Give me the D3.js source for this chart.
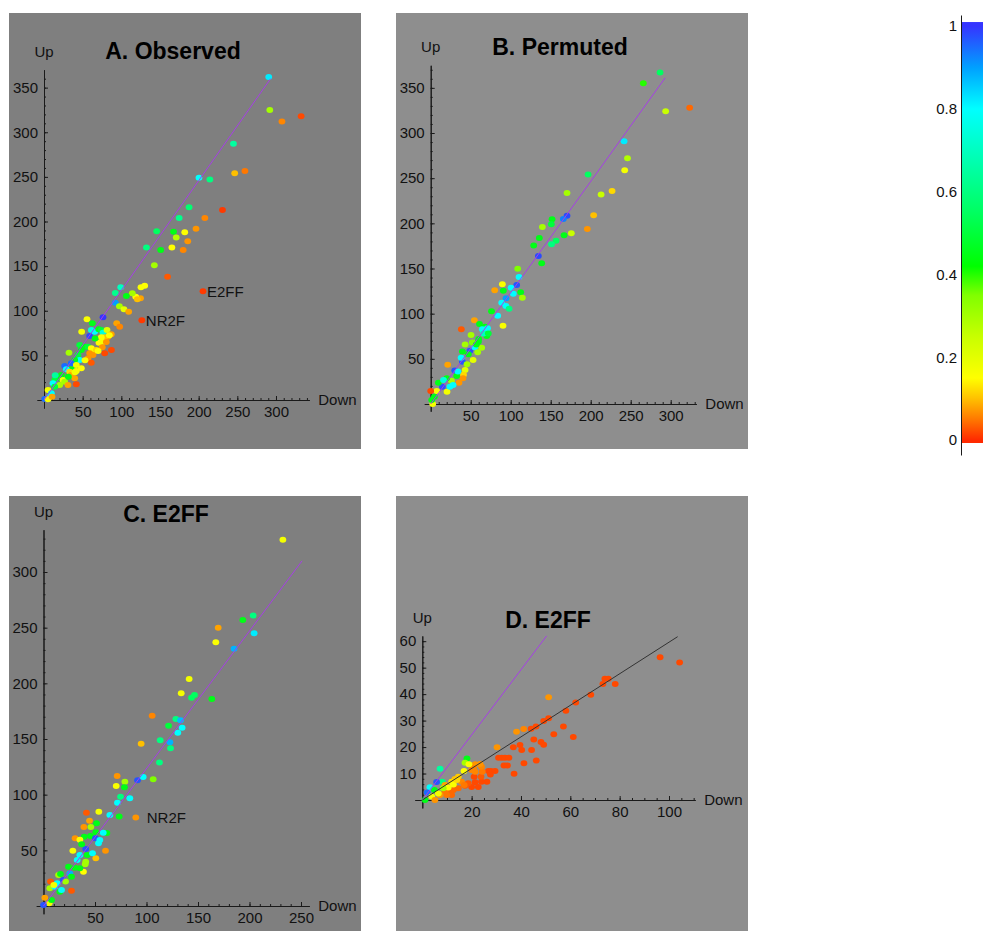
<!DOCTYPE html>
<html>
<head>
<meta charset="utf-8">
<script src="https://cdn.jsdelivr.net/npm/d3@7"></script>
<style>
  body { margin: 0; background: #fff; }
  svg { display: block; font-family: "Liberation Sans", Arial, Helvetica, sans-serif; }
</style>
</head>
<body>
<svg id="chart" width="983" height="932"></svg>
<script>
// values: [down, up, score]
var observedPoints = [
  [290.6,362,0.82],[292,325,0.3],[307.7,312,0.06],[332.5,318,0.02],
  [245,287,0.65],[200.4,249,0.8],[214.5,247,0.6],[246.6,254,0.1],[259.8,256.6,0.05],
  [230.8,213,0.01],[208,204,0.06],[187.6,216,0.58],[174.8,204,0.62],[196.6,192,0.07],
  [182,188,0.15],[185.9,178,0.07],[180,168,0.06],[167.5,188.6,0.45],[171,182,0.28],
  [165.4,171,0.15],[145.7,189,0.55],[150.9,168,0.45],[132.5,171,0.6],[142.7,151,0.3],
  [159.8,138,0.03],[205.6,121.8,0.01],[126.5,89.3,0.01],
  [130.2,128,0.15],[125.4,126.3,0.16],[124.8,114,0.08],[118.6,115.7,0.15],[120.7,112.8,0.1],
  [114.2,119.5,0.3],[106.5,116.5,0.45],[99.2,126.3,0.7],[92.2,120,0.62],[92.2,109,0.9],
  [97.5,105,0.3],[103.4,101.6,0.2],[109.5,99,0.08],[94,86,0.08],[97.9,82.2,0.06],
  [87.2,56,0.02],[78.5,52.3,0.02],[76.3,92.6,1],[55.6,90.4,0.16],[62.5,86,0.45],
  [48.7,76.5,0.17],[59,71.7,0.98],[61.2,78.4,0.75],[65.5,76.5,0.8],[70.7,79.2,0.45],[74.1,78.4,0.5],[76.3,75.4,0.75],
  [81.5,78.4,0.2],[87,73.6,0.08],[82.8,70.9,0.08],[78.5,70.2,0.1],[71.1,64.2,0.15],[76.3,65.3,0.17],[74.1,70.2,0.15],
  [80.6,65,0.07],[75.4,59,0.07],[46.2,61.6,0.5],[32.3,53,0.3],[52.6,59.7,0.45],[56.9,59.7,0.5],[61.2,57.9,0.15],
  [63.4,54.1,0.16],[67.7,56,0.12],[59.1,52.3,0.07],[63.4,50.4,0.07],[56.9,46.7,0.07],[61.2,41.8,0.03],
  [48.3,56,0.45],[44,50.4,0.5],[46.2,44.8,0.8],[39.7,44.8,0.45],[35.3,41.1,0.95],[41.8,39.2,0.17],[48.3,35.5,0.15],
  [35.3,34.4,0.45],[41.8,32.5,0.16],[26.7,38,0.95],[28.9,34.4,0.8],[33.2,31.7,0.12],[35.3,28,0.08],[39.7,24.3,0.08],
  [41.8,17.6,0.02],[22.4,28,0.45],[18.1,24.3,0.45],[13.8,22.4,0.5],[24.6,22.4,0.17],[26.7,20.5,0.3],
  [20.3,16.8,0.3],[31,16.8,0.08],[11.6,18.7,0.8],[13.8,14.9,0.5],[5.2,11.2,0.17],[9.5,7.5,0.8],[7.3,3.7,0.8],
  [0.9,1.1,0.95],[5.2,0.8,0.16],[10.4,3.7,0.08],
  [66,69,0.45],[53,44.5,0.16],[40,31,0.17],[31.6,26,0.45],[14.5,27.6,0.65],[70,55,0.15],[84.5,72.5,0.15]
];
var permutedPoints = [
  [286.7,367,0.55],[265.8,355,0.4],[293.7,324,0.25],[323.7,328,0.04],[241.7,290.8,0.82],
  [246,272,0.28],[242.5,258.7,0.17],[226.7,235.8,0.12],[213,232,0.25],[196.7,254,0.55],
  [203.7,209,0.1],[195.8,193.7,0.07],[170.4,233.6,0.3],[170.4,208.5,0.98],[165.8,204.8,0.93],
  [175.8,189,0.25],[166.7,186.7,0.45],[156.7,180.8,0.55],[151,176.8,0.6],[151.7,204.4,0.45],
  [150.8,199,0.5],[139.6,196,0.3],[135.8,183.8,0.45],[128.75,175.6,0.45],[134.6,163.8,0.98],
  [138.75,155.7,0.45],[108.75,149.8,0.35],[110.4,140.6,0.8],[107.5,131.7,0.97],[100.4,128.8,0.8],
  [89.6,132.5,0.16],[90.8,125.5,0.45],[80,125.8,0.08],[112.5,123.6,0.45],[114.6,117.7,0.3],
  [103.3,122,0.8],[94.2,117,0.9],[88.75,112,0.8],[94,108.5,0.8],[98,105.5,0.6],
  [83.75,97.8,0.8],[90.4,86.7,0.16],[76,102.6,0.45],[54.6,92.6,0.08],[38.3,82.7,0.03],
  [68,85.6,0.45],[61,88.6,0.45],[64.6,82.7,0.8],[71,83.8,0.8],[70,75.3,0.45],
  [59.6,69,0.45],[50.4,76.4,0.3],[43,66,0.3],[49,59,0.97],[55,62.7,0.8],
  [63.75,62.4,0.3],[58.75,57.2,0.3],[53,48.7,0.2],[39.6,46.9,0.97],[45.4,44,0.3],
  [39.6,58,0.45],[38,51.3,0.8],[43,37.6,0.2],[41,32.5,0.12],[40.4,28.4,0.07],
  [35.4,23.6,0.07],[21.25,43.5,0.08],[30,37,0.97],[32.5,31,0.45],[26,25.8,0.3],
  [20,28.4,0.45],[14.6,19.2,0.97],[9.6,23.6,0.45],[20.4,13.6,0.17],[7.5,14.4,0.17],
  [0,14.4,0.02],[4.6,8,0.45],[2.5,0,0.17],[1.25,4.4,0.45],[28,21,0.8],[24,19,0.8],[16,26.5,0.75],
  [60,72,0.45],[52,68,0.35],[66,78,0.7],[57,66,0.45],[47,55,0.45],[72,78,0.5],[34,36,0.8]
];
var e2ffPoints = [
  [232.4,329,0.17],[169.6,250,0.08],[167.3,237,0.16],[193.5,257,0.45],[203.6,261,0.6],
  [204.5,245,0.82],[185,231,0.88],[141.4,204,0.17],[133.7,191,0.17],[143.7,187,0.55],
  [146.6,189.5,0.55],[163.4,186,0.45],[105.5,171,0.06],[128.5,168,0.6],[133,166.8,0.87],
  [121.4,162,0.5],[134.6,160,0.8],[130.4,155.7,0.8],[113.3,148.8,0.6],[122.7,147,0.88],
  [123.3,141.6,0.6],[94.8,145.8,0.1],[112.6,129,0.6],[106.5,113.8,0.35],[91.3,112.9,0.97],
  [96.8,115.9,0.8],[71.5,116.8,0.07],[70.6,107.8,0.16],[79,111.7,0.3],[78.6,106.6,0.45],
  [74.8,98.2,0.6],[83.8,96.7,0.8],[71.8,92.8,0.8],[64.4,81.7,0.8],[73.5,80.5,0.45],
  [89.6,79.6,0.07],[41.7,83.8,0.03],[53.7,84.7,0.17],[44.7,76.6,0.08],[39.2,71,0.07],
  [46,71,0.3],[51.5,74.3,0.45],[50.8,66.2,0.45],[61.5,65.6,0.45],[58,65.9,0.8],
  [45.6,62.9,0.45],[50.5,60.8,0.97],[39.5,62.3,0.45],[30.7,60.8,0.07],[35.3,59.6,0.16],
  [41,51.2,0.97],[37,55.4,0.45],[53.4,56.3,0.8],[54.7,59.3,0.8],[60.2,49.7,0.07],
  [50.8,42.8,0.1],[28.5,49.7,0.16],[42.4,45.8,0.45],[47.6,47.3,0.8],[35.3,45.8,0.8],
  [32.7,41.3,0.8],[41,39.8,0.3],[40.5,37.4,0.3],[38.8,30.8,0.15],[35.3,33.8,0.45],
  [24.3,35.3,0.45],[25.6,29.3,0.88],[19.1,23.4,0.97],[27.2,26.3,0.45],[14.6,27.8,0.3],
  [16.5,28.7,0.45],[15.9,12.9,0.45],[27.2,13.8,0.03],[6.8,21.9,0.03],[6.1,15.9,0.3],
  [1.3,7.5,0.08],[5.5,2.4,0.17],[7.8,5.4,0.45],[0,1,0.97],[11,17.4,0.8],
  [13.3,20.4,0.8],[10,18.9,0.17],[21.4,21.9,0.3],[30.4,34.4,0.45],[17.5,14.4,0.8]
];
var e2ffLowPoints = [
  [96.4,53.9,0.02],[104.3,51.9,0.02],[51.2,38.8,0.07],[74,45.8,0.02],[75.4,45.8,0.02],
  [73.2,43.8,0.02],[78.2,43.8,0.02],[68.3,39.8,0.02],[62.2,36.8,0.02],[58.2,33.7,0.02],
  [51.2,30.9,0.02],[49.2,29.8,0.02],[46.1,27.8,0.02],[44.1,26.9,0.02],[41.1,26.8,0.06],
  [57.2,27.8,0.02],[53.3,24.8,0.02],[61.2,23.8,0.02],[45.2,22.9,0.02],[48.1,21.9,0.02],
  [49.2,20.9,0.02],[44.3,18.9,0.02],[40.3,18.9,0.02],[39.6,20.8,0.02],[41.2,13.9,0.02],
  [46.2,14.9,0.02],[30.3,19.9,0.07],[38.2,25.8,0.07],[30.9,16,0.02],[32.2,16,0.02],
  [33.5,16,0.02],[35.1,16,0.02],[33.1,13,0.02],[34.5,13,0.02],[37.2,9.9,0.02],
  [36.9,19.9,0.02],[26.8,11,0.02],[27.8,11,0.02],[29.5,11,0.02],[27.6,9.6,0.02],
  [26.2,6.9,0.02],[24,6.9,0.02],[22.7,4.9,0.02],[20,4.9,0.02],[21.4,6.7,0.02],
  [18.6,6.3,0.03],[17.3,5.4,0.03],[23.8,8.8,0.03],[21,8.8,0.02],[24.3,10.7,0.05],
  [24,12.6,0.06],[23.4,13.6,0.07],[21.4,13.5,0.07],[20.7,12.2,0.06],[18.1,15.7,0.45],
  [17.3,14.1,0.3],[18.9,13.5,0.16],[16.9,11,0.15],[14.6,8.8,0.11],[13.2,7.9,0.1],
  [11.9,6.9,0.12],[15.9,6.9,0.06],[17,5.7,0.05],[14.6,4.4,0.04],[12.6,3.8,0.04],
  [11.2,2.8,0.04],[9.2,3.1,0.05],[11.9,1.9,0.04],[9.9,1.9,0.05],[7.2,1.9,0.07],
  [7.2,11.8,0.65],[8.1,6.9,0.6],[5.8,6.8,0.97],[3.1,4.8,0.8],[2,2.8,0.95],
  [4.9,3.8,0.45],[3.8,1.3,0.17],[1.1,0,0.45],[5.1,0,0.07],[6.5,2.5,0.17],
  [12.6,5.9,0.16],[14,7.6,0.12],[9.2,5.7,0.08],[10.5,4.7,0.16],[8.5,4.4,0.3],
  [20,11.3,0.06],[21.4,10.7,0.06]
];

// fitted lines: [down, up] end points
var observedFit = [[0, 0], [293, 360]];
var permutedFit = [[0, 0], [293, 361]];
var e2ffFit = [[0, 0], [251, 310]];
var e2ffLowDiag = [[0, 0], [50.4, 62]];
var e2ffLowFit = [[0, 0], [103.5, 61.7]];

// named points: [text, down, up]
var observedLabels = [["E2FF", 205.6, 121.8], ["NR2F", 126.5, 89.3]];
var e2ffLabels = [["NR2F", 89.6, 79.6]];

var ticksXBig = [50, 100, 150, 200, 250, 300];
var ticksYBig = [50, 100, 150, 200, 250, 300, 350];
var ticksXC = [50, 100, 150, 200, 250];
var ticksYC = [50, 100, 150, 200, 250, 300];
var ticksXD = [20, 40, 60, 80, 100];
var ticksYD = [10, 20, 30, 40, 50, 60];
var scoreTicks = [0, 0.2, 0.4, 0.6, 0.8, 1];

var colorStops = [0, 0.05, 0.1, 0.15, 0.25, 0.35, 0.42, 0.55, 0.7, 0.8, 0.9, 1];
var colorHex = ["#ff2a00", "#ff7800", "#ffc000", "#ffff00", "#c8ff00", "#80ff00",
  "#00ff00", "#00ff60", "#00ffc0", "#00ffff", "#00a0ff", "#3535ff"];

var purple = "#a63ee6";
var fontFam = '"Liberation Sans", Arial, Helvetica, sans-serif';

var color = d3.scaleLinear().domain(colorStops).range(colorHex).interpolate(d3.interpolateRgb);
var svg = d3.select("#chart");

var panels = [
  { bg: [9, 13, 352, 436], fill: "#7f7f7f", ox: 44, oy: 400, kx: 0.7733, ky: 0.8925,
    xExt: [-9, 343], yExt: [-9, 370], xTicks: ticksXBig, yTicks: ticksYBig, xMinor: 10, yMinor: 10,
    title: "A. Observed", tx: 173, ty: 59, points: observedPoints,
    lines: [[observedFit, purple]], labels: observedLabels, labelDx: 4 },
  { bg: [396, 13, 352, 436], fill: "#8e8e8e", ox: 430.7, oy: 404, kx: 0.8, ky: 0.9033,
    xExt: [-8, 332], yExt: [-8, 375], xTicks: ticksXBig, yTicks: ticksYBig, xMinor: 10, yMinor: 10,
    title: "B. Permuted", tx: 560, ty: 55, points: permutedPoints,
    lines: [[permutedFit, purple]], labels: [], labelDx: 0 },
  { bg: [9, 496, 352, 435], fill: "#7f7f7f", ox: 43.5, oy: 906, kx: 1.03, ky: 1.1133,
    xExt: [-7, 258], yExt: [-7, 338], xTicks: ticksXC, yTicks: ticksYC, xMinor: 10, yMinor: 10,
    title: "C. E2FF", tx: 166, ty: 522, points: e2ffPoints,
    lines: [[e2ffFit, purple]], labels: e2ffLabels, labelDx: 11 },
  { bg: [396, 496, 352, 435], fill: "#8e8e8e", ox: 422.3, oy: 800, kx: 2.467, ky: 2.647,
    xExt: [-3, 110.6], yExt: [-3, 62], xTicks: ticksXD, yTicks: ticksYD, xMinor: 5, yMinor: 2,
    title: "D. E2FF", tx: 548, ty: 628, points: e2ffLowPoints,
    lines: [[e2ffLowDiag, purple], [e2ffLowFit, "#333"]], labels: [], labelDx: 0 }
];

function drawPanel(p) {
  var g = svg.append("g");
  g.append("rect")
    .attr("x", p.bg[0]).attr("y", p.bg[1])
    .attr("width", p.bg[2]).attr("height", p.bg[3])
    .attr("fill", p.fill);

  var x = d3.scaleLinear().domain(p.xExt)
    .range([p.ox + p.xExt[0] * p.kx, p.ox + p.xExt[1] * p.kx]);
  var y = d3.scaleLinear().domain(p.yExt)
    .range([p.oy - p.yExt[0] * p.ky, p.oy - p.yExt[1] * p.ky]);

  var minorX = d3.range(p.xMinor, p.xExt[1], p.xMinor);
  var minorY = d3.range(p.yMinor, p.yExt[1], p.yMinor);

  var gx = g.append("g").attr("transform", "translate(0," + p.oy + ")");
  gx.call(d3.axisBottom(x).tickValues(minorX).tickSizeInner(-2).tickSizeOuter(0).tickFormat(""));
  gx.append("g").call(d3.axisBottom(x).tickValues(p.xTicks).tickSizeInner(-4).tickSizeOuter(0).tickPadding(6));

  var gy = g.append("g").attr("transform", "translate(" + p.ox + ",0)");
  gy.call(d3.axisLeft(y).tickValues(minorY).tickSizeInner(-2).tickSizeOuter(0).tickFormat(""));
  gy.append("g").call(d3.axisLeft(y).tickValues(p.yTicks).tickSizeInner(-4).tickSizeOuter(0).tickPadding(6));

  g.selectAll(".domain").attr("stroke", "#1a1a1a");
  g.selectAll(".tick line").attr("stroke", "#1a1a1a");
  g.selectAll(".tick text").attr("font-size", 15).attr("font-family", fontFam).attr("fill", "#111");

  g.append("g").selectAll("ellipse")
    .data(p.points)
    .join("ellipse")
    .attr("cx", function (d) { return x(d[0]); })
    .attr("cy", function (d) { return y(d[1]); })
    .attr("rx", 3.4)
    .attr("ry", 3.0)
    .attr("fill", function (d) { return color(d[2]); });

  var line = d3.line().x(function (d) { return x(d[0]); }).y(function (d) { return y(d[1]); });
  p.lines.forEach(function (l) {
    g.append("path").attr("d", line(l[0])).attr("fill", "none")
      .attr("stroke", l[1]).attr("stroke-width", 1);
  });

  g.selectAll(".lbl")
    .data(p.labels)
    .join("text")
    .attr("x", function (d) { return x(d[1]) + p.labelDx; })
    .attr("y", function (d) { return y(d[2]); })
    .attr("dy", "0.35em")
    .attr("font-size", 15).attr("font-family", fontFam).attr("fill", "#111")
    .text(function (d) { return d[0]; });

  g.append("text")
    .attr("x", p.ox).attr("y", y(p.yExt[1]) - 13)
    .attr("text-anchor", "middle")
    .attr("font-size", 15).attr("font-family", fontFam).attr("fill", "#111")
    .text("Up");
  g.append("text")
    .attr("x", x(p.xExt[1]) + 9).attr("y", p.oy)
    .attr("dy", "0.35em")
    .attr("font-size", 15).attr("font-family", fontFam).attr("fill", "#111")
    .text("Down");
  g.append("text")
    .attr("x", p.tx).attr("y", p.ty)
    .attr("text-anchor", "middle")
    .attr("font-size", 23).attr("font-weight", "bold").attr("font-family", fontFam).attr("fill", "#000")
    .text(p.title);
}

panels.forEach(drawPanel);

// colour bar
var barScale = d3.scaleLinear().domain([-0.036, 1.027]).range([455, 15]);
var barLo = -0.007, barHi = 1.01;
var grad = svg.append("defs").append("linearGradient")
  .attr("id", "scoreGrad").attr("x1", 0).attr("y1", 1).attr("x2", 0).attr("y2", 0);
grad.selectAll("stop")
  .data(colorStops)
  .join("stop")
  .attr("offset", function (d) { return (d - barLo) / (barHi - barLo); })
  .attr("stop-color", function (d) { return color(d); });
svg.append("rect")
  .attr("x", 962).attr("y", barScale(barHi))
  .attr("width", 22).attr("height", barScale(barLo) - barScale(barHi))
  .attr("fill", "url(#scoreGrad)");
var cb = svg.append("g").attr("transform", "translate(961,0)")
  .call(d3.axisLeft(barScale).tickValues(scoreTicks).tickSize(0).tickPadding(4).tickFormat(d3.format("")));
cb.select(".domain").attr("stroke", "#1a1a1a");
cb.selectAll(".tick text").attr("font-size", 15).attr("font-family", fontFam).attr("fill", "#111");
</script>
</body>
</html>
